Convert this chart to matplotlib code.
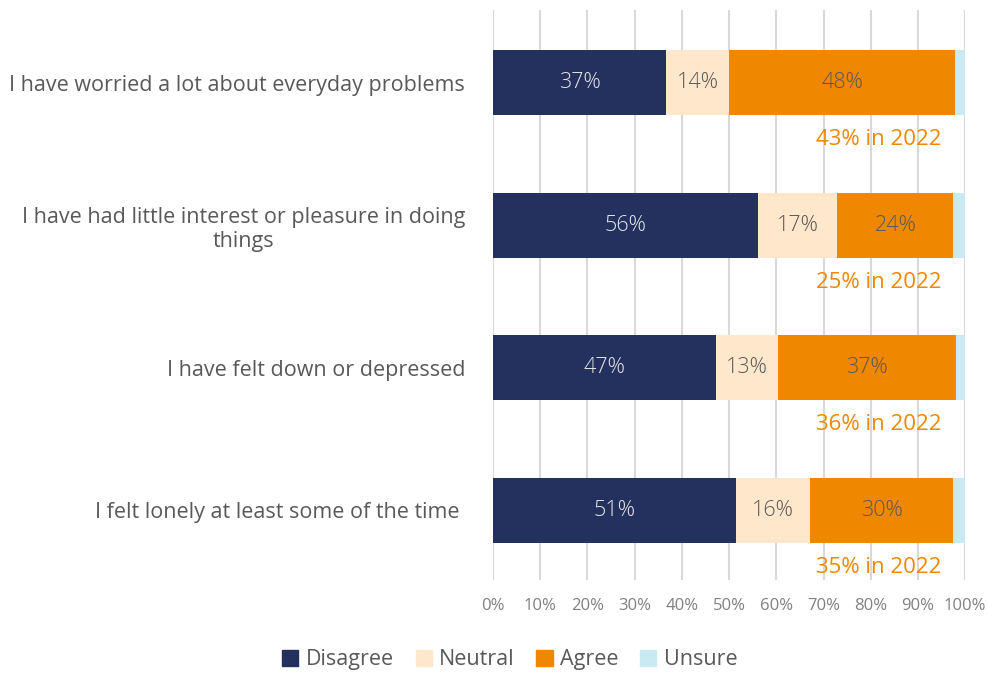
import matplotlib.pyplot as plt
from matplotlib.patches import Patch

categories = [
    "I have worried a lot about everyday problems",
    "I have had little interest or pleasure in doing\nthings",
    "I have felt down or depressed",
    "I felt lonely at least some of the time ",
]
disagree = [36.7, 56.1, 47.2, 51.5]
neutral = [13.3, 16.8, 13.2, 15.7]
agree = [47.9, 24.6, 37.7, 30.3]
unsure = [2.1, 2.5, 1.9, 2.5]
disagree_labels = ["37%", "56%", "47%", "51%"]
neutral_labels = ["14%", "17%", "13%", "16%"]
agree_labels = ["48%", "24%", "37%", "30%"]
notes_2022 = ["43% in 2022", "25% in 2022", "36% in 2022", "35% in 2022"]

colors = {"Disagree": "#24305E", "Neutral": "#FFE7CB", "Agree": "#F08700", "Unsure": "#C9EAF3"}

plt.rcParams['font.family'] = ['Open Sans', 'DejaVu Sans']

fig = plt.figure(figsize=(9.88, 6.74), dpi=100)
ax = fig.add_axes([0.499, 0.139, 0.478, 0.846])

y = list(range(len(categories)))
h = 0.455
left = [0] * len(y)
series = [("Disagree", disagree, disagree_labels, "#E6E6E6"),
          ("Neutral", neutral, neutral_labels, "#595959"),
          ("Agree", agree, agree_labels, "#595959"),
          ("Unsure", unsure, None, None)]
for name, vals, labels, tc in series:
    ax.barh(y, vals, left=left, height=h, color=colors[name], zorder=3)
    if labels:
        for i, v in enumerate(vals):
            ax.text(left[i] + v / 2, y[i], labels[i], ha='center', va='center',
                    fontsize=15.5, color=tc, fontweight='light', zorder=4)
    left = [l + v for l, v in zip(left, vals)]

for i, note in enumerate(notes_2022):
    ax.text(81.6, y[i] + 0.4, note, ha='center', va='center', fontsize=16,
            color="#F08700", zorder=4)

ax.set_xlim(0, 100)
ax.set_ylim(3.49, -0.51)
ax.set_xticks(range(0, 101, 10))
ax.set_xticklabels([f"{t}%" for t in range(0, 101, 10)], fontsize=12, color="#808080")
ax.set_yticks(y)
ax.set_yticklabels(categories, fontsize=15.5, color="#595959", multialignment='center')
ax.tick_params(length=0)
ax.tick_params(axis='y', pad=20)
ax.tick_params(axis='x', pad=13)
ax.grid(axis='x', color="#D9D9D9", linewidth=1.5, zorder=0)
for s in ax.spines.values():
    s.set_visible(False)

handles = [Patch(color=c, label=n) for n, c in colors.items()]
fig.legend(handles=handles, loc='center', bbox_to_anchor=(0.516, 0.021), ncol=4,
           frameon=False, fontsize=15.5, handlelength=0.75, handleheight=0.75,
           columnspacing=1.0, handletextpad=0.35, labelcolor="#595959")

fig.savefig("out.png", dpi=100)
